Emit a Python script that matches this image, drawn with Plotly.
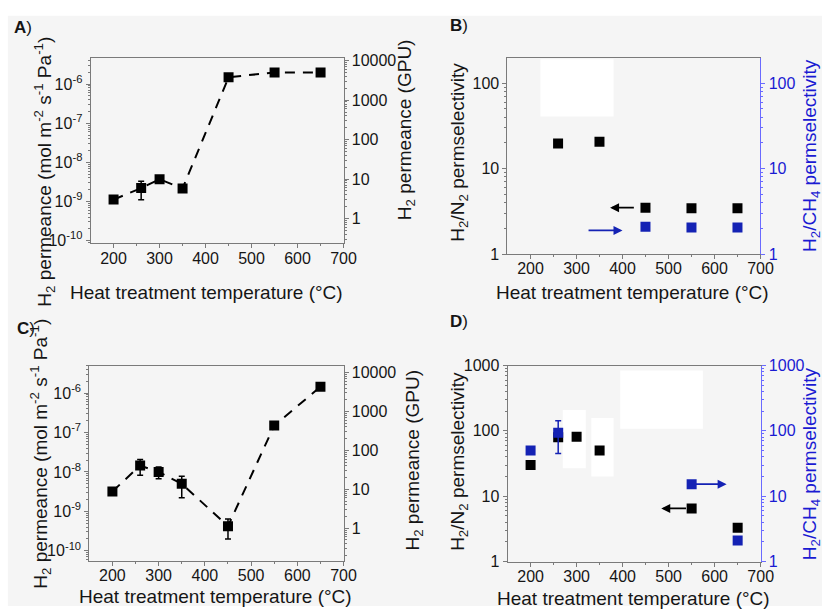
import plotly.graph_objects as go
import math

# ---------------- data ----------------
# Panel A
temp_a = [200, 260, 300, 350, 450, 550, 650]
perm_a = [1.12e-9, 2.2e-9, 3.7e-9, 2.15e-9, 1.5e-6, 2.0e-6, 2.0e-6]
perm_a_err = [0, 1.1e-9, 0, 0, 0, 0, 0]

# Panel B
temp_b_n2 = [260, 350, 450, 550, 650]
sel_b_n2 = [19.7, 20.7, 3.5, 3.45, 3.45]
temp_b_ch4 = [450, 550, 650]
sel_b_ch4 = [2.1, 2.05, 2.05]

# Panel C
temp_c = [200, 260, 300, 350, 450, 550, 650]
perm_c = [3.2e-9, 1.45e-8, 1.0e-8, 5.0e-9, 4.2e-10, 1.5e-7, 1.45e-6]
perm_c_err = [0, 6.3e-9, 3.3e-9, 2.8e-9, 2.2e-10, 0, 0]

# Panel D
temp_d_n2 = [200, 260, 300, 350, 550, 650]
sel_d_n2 = [30, 80, 81, 50, 6.5, 3.3]
temp_d_ch4 = [200, 260, 550, 650]
sel_d_ch4 = [50, 94, 15.3, 2.1]
sel_d_ch4_err = [0, 49, 0, 0]

GPU = 3.35e-10  # mol m-2 s-1 Pa-1 per GPU

x_ticks = [200, 300, 400, 500, 600, 700]
perm_tickvals = [1e-10, 1e-9, 1e-8, 1e-7, 1e-6]
perm_ticktext = ["10<sup>-10</sup>", "10<sup>-9</sup>", "10<sup>-8</sup>", "10<sup>-7</sup>", "10<sup>-6</sup>"]
gpu_tickvals = [1, 10, 100, 1000, 10000]
gpu_ticktext = ["1", "10", "100", "1000", "10000"]
sel_ticks_b = [1, 10, 100]
sel_ticks_d = [1, 10, 100, 1000]

# ---------------- styling ----------------
W, H = 835, 615
BG = "#f5f5f5"
FRAME = "#7a7a7a"
TXT = "#151515"
BLUE = "#1422b4"
BLUE_TXT = "#1a1ad2"
BLUE_LINE = "#6a6aff"
FONT = "Liberation Sans, Arial, sans-serif"
TICKF = dict(family=FONT, size=16, color=TXT)
TITLEF = dict(family=FONT, size=19, color=TXT)


def px(x):
    return x / W


def py(y):
    return 1 - y / H


def minor_vals(lo, hi):
    return [m * 10 ** k for k in range(lo, hi) for m in range(2, 10)]


fig = go.Figure()

dash = "10px,8px"

# Panel A
fig.add_trace(go.Scatter(x=temp_a, y=perm_a, mode="lines+markers", xaxis="x", yaxis="y",
                         line=dict(color="black", width=2, dash=dash),
                         marker=dict(symbol="square", size=10, color="black"),
                         error_y=dict(type="data", array=perm_a_err, color="black", thickness=1.5, width=3),
                         showlegend=False))
# same data in GPU on the right axis (invisible, keeps the axis drawn)
fig.add_trace(go.Scatter(x=temp_a, y=[v / GPU for v in perm_a], mode="markers", xaxis="x", yaxis="y2",
                         marker=dict(size=1, opacity=0), hoverinfo="skip", showlegend=False))
# Panel B
fig.add_trace(go.Scatter(x=temp_b_n2, y=sel_b_n2, mode="markers", xaxis="x2", yaxis="y3",
                         marker=dict(symbol="square", size=10, color="black"), showlegend=False))
fig.add_trace(go.Scatter(x=temp_b_ch4, y=sel_b_ch4, mode="markers", xaxis="x2", yaxis="y4",
                         marker=dict(symbol="square", size=10, color=BLUE), showlegend=False))
# Panel C
fig.add_trace(go.Scatter(x=temp_c, y=perm_c, mode="lines+markers", xaxis="x3", yaxis="y5",
                         line=dict(color="black", width=2, dash=dash),
                         marker=dict(symbol="square", size=10, color="black"),
                         error_y=dict(type="data", array=perm_c_err, color="black", thickness=1.5, width=3),
                         showlegend=False))
fig.add_trace(go.Scatter(x=temp_c, y=[v / GPU for v in perm_c], mode="markers", xaxis="x3", yaxis="y6",
                         marker=dict(size=1, opacity=0), hoverinfo="skip", showlegend=False))
# Panel D
fig.add_trace(go.Scatter(x=temp_d_n2, y=sel_d_n2, mode="markers", xaxis="x4", yaxis="y7",
                         marker=dict(symbol="square", size=10, color="black"), showlegend=False))
fig.add_trace(go.Scatter(x=temp_d_ch4, y=sel_d_ch4, mode="markers", xaxis="x4", yaxis="y8",
                         marker=dict(symbol="square", size=10, color=BLUE),
                         error_y=dict(type="data", array=sel_d_ch4_err, color=BLUE, thickness=1.5, width=3),
                         showlegend=False))


def xax(dom, anchor):
    return dict(domain=[px(dom[0]), px(dom[1])], anchor=anchor, range=[150, 700],
                tickvals=x_ticks, ticks="outside", ticklen=4, tickcolor=FRAME,
                minor=dict(tickvals=[250, 350, 450, 550, 650], ticks="outside", ticklen=2, tickcolor=FRAME),
                showline=True, linecolor=FRAME, linewidth=1, mirror=True,
                showgrid=False, zeroline=False, tickfont=TICKF, ticklabelstandoff=-4)


def yax(dom, anchor, rng, tv, tt, mv, side="left", overlay=None, color=FRAME, fcolor=TXT):
    d = dict(type="log", range=rng, anchor=anchor, side=side,
             tickvals=tv, ticktext=tt, ticks="outside", ticklen=4, tickcolor=color,
             minor=dict(tickvals=mv, ticks="outside", ticklen=2, tickcolor=color),
             showline=True, linecolor=color, linewidth=1, mirror=False,
             showgrid=False, zeroline=False,
             tickfont=dict(family=FONT, size=16, color=fcolor))
    if overlay:
        d["overlaying"] = overlay
    else:
        d["domain"] = [py(dom[1]), py(dom[0])]
    return d


A_x, A_y = (92, 349), (51, 242)
B_x, B_y = (515.5, 772.5), (51.7, 253.3)
C_x, C_y = (90.7, 349), (367.7, 568.3)
D_x, D_y = (515.6, 772.7), (367.7, 569.3)

fig.update_layout(
    xaxis=xax(A_x, "y"),
    yaxis=yax(A_y, "x", [-10.07, -5.32], perm_tickvals, perm_ticktext, minor_vals(-11, -5)),
    yaxis2=yax(A_y, "x", [-0.63, 4.08], gpu_tickvals, gpu_ticktext, minor_vals(-1, 5), side="right", overlay="y"),
    xaxis2=xax(B_x, "y3"),
    yaxis3=yax(B_y, "x2", [0, 2.29], sel_ticks_b, [str(v) for v in sel_ticks_b], minor_vals(0, 3)),
    yaxis4=yax(B_y, "x2", [0, 2.29], sel_ticks_b, [str(v) for v in sel_ticks_b], minor_vals(0, 3),
               side="right", overlay="y3", color=BLUE_LINE, fcolor=BLUE_TXT),
    xaxis3=xax(C_x, "y5"),
    yaxis5=yax(C_y, "x3", [-10.25, -5.30], perm_tickvals, perm_ticktext, minor_vals(-11, -5)),
    yaxis6=yax(C_y, "x3", [-0.83, 4.18], gpu_tickvals, gpu_ticktext, minor_vals(-1, 5), side="right", overlay="y5"),
    xaxis4=xax(D_x, "y7"),
    yaxis7=yax(D_y, "x4", [0, 3], sel_ticks_d, [str(v) for v in sel_ticks_d], minor_vals(0, 3)),
    yaxis8=yax(D_y, "x4", [0, 3], sel_ticks_d, [str(v) for v in sel_ticks_d], minor_vals(0, 3),
               side="right", overlay="y7", color=BLUE_LINE, fcolor=BLUE_TXT),
)

# background + white patches
shapes = [
    dict(type="rect", xref="paper", yref="paper", x0=px(8), x1=1, y0=0, y1=py(8),
         fillcolor=BG, line=dict(width=0), layer="below"),
]
for (x0, y0, x1, y1) in [(549, 52.7, 623.3, 111.7), (630, 372.7, 714, 432.7),
                         (571.7, 413.3, 595, 473.3), (600.7, 421.7, 623.3, 481.7)]:
    shapes.append(dict(type="rect", xref="paper", yref="paper", x0=px(x0), x1=px(x1), y0=py(y1), y1=py(y0),
                       fillcolor="white", line=dict(width=0), layer="below"))

ann = []


def text(x, y, s, angle=0, font=TITLEF):
    ann.append(dict(xref="paper", yref="paper", x=px(x), y=py(y), text=s, showarrow=False,
                    textangle=angle, xanchor="center", yanchor="middle", font=font))


lab_f = dict(family=FONT, size=17, color=TXT)
text(23, 20, "<b>A</b>)", font=lab_f)
text(466, 18, "<b>B</b>)", font=lab_f)
text(26, 330, "<b>C</b>)", font=lab_f)
text(466, 322, "<b>D</b>)", font=lab_f)

xt = "Heat treatment temperature (°C)"
text(210, 293, xt)
text(643, 293, xt)
text(219, 605, xt)
text(644, 607, xt)

pt = "H<sub>2</sub> permeance (mol m<sup>-2</sup> s<sup>-1</sup> Pa<sup>-1</sup>)"
text(45, 168, pt, angle=-90)
text(41, 458, pt, angle=-90)
gt = "H<sub>2</sub> permeance (GPU)"
text(412, 125, gt, angle=-90)
text(421, 465, gt, angle=-90)
text(466, 148, "H<sub>2</sub>/N<sub>2</sub> permselectivity", angle=-90)
text(466, 466, "H<sub>2</sub>/N<sub>2</sub> permselectivity", angle=-90)
bf = dict(family=FONT, size=19, color=BLUE_TXT)
text(824, 152, "H<sub>2</sub>/CH<sub>4</sub> permselectivity", angle=-90, font=bf)
text(824, 469, "H<sub>2</sub>/CH<sub>4</sub> permselectivity", angle=-90, font=bf)


def arrow(xh, xt_, yv, xr, yr, color):
    ann.append(dict(x=xh, y=math.log10(yv), ax=xt_, ay=math.log10(yv), xref=xr, yref=yr,
                    axref=xr, ayref=yr, text="", showarrow=True, arrowhead=2, arrowsize=1,
                    arrowwidth=1.8, arrowcolor=color))


arrow(373, 428, 3.5, "x2", "y3", "black")
arrow(400, 323, 1.9, "x2", "y4", BLUE)
arrow(484, 541, 6.5, "x4", "y7", "black")
arrow(626, 552, 15.3, "x4", "y8", BLUE)

fig.update_layout(
    width=W, height=H, autosize=False,
    margin=dict(l=0, r=0, t=0, b=0),
    paper_bgcolor="white", plot_bgcolor="rgba(0,0,0,0)",
    shapes=shapes, annotations=ann, showlegend=False,
    font=dict(family=FONT, color=TXT),
)

fig.write_html("out.html", config={"displayModeBar": False},
               post_script="document.body.style.margin='0';document.body.style.overflow='hidden';")
